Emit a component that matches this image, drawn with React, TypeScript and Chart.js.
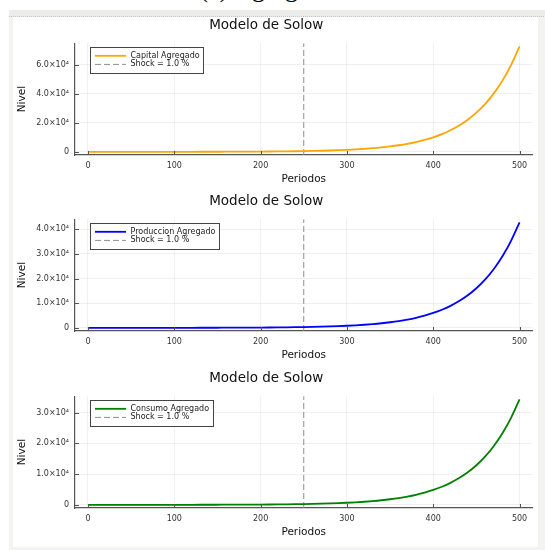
import React, { useEffect, useRef } from "react";
import { Chart, registerables } from "chart.js";

Chart.register(...registerables);

// ---------------- data ----------------
const PERIODS = [
  0, 10, 20, 30, 40, 50, 60, 70, 80, 90, 100, 110, 120, 130, 140, 150, 160, 170, 180, 190,
  200, 210, 220, 230, 240, 250, 260, 270, 280, 290, 300, 310, 320, 330, 340, 350, 360, 370,
  380, 390, 400, 410, 420, 430, 440, 450, 460, 470, 480, 490, 500,
];
const CAPITAL = [
  3.6, 4.5, 5, 7, 8, 10, 12, 14, 18, 21, 26, 32, 39, 48, 58, 71, 86, 105, 128, 157, 191, 233,
  284, 346, 422, 514, 627, 764, 931, 1135, 1383, 1686, 2055, 2505, 3055, 3720, 4535, 5530,
  6740, 8215, 10010, 12210, 14880, 18130, 22100, 26940, 32840, 40030, 48800, 59480, 72500,
];
const PRODUCCION = [
  2.3, 2.8, 3.5, 4.2, 5.1, 6.2, 7.6, 9, 11, 14, 17, 21, 25, 30, 37, 45, 55, 67, 81, 99, 120,
  146, 178, 216, 263, 320, 390, 474, 576, 701, 853, 1037, 1261, 1534, 1866, 2270, 2760, 3360,
  4085, 4970, 6040, 7350, 8940, 10870, 13230, 16090, 19570, 23800, 28950, 35220, 42840,
];
const CONSUMO = [
  1.9, 2.3, 2.8, 3.4, 4.1, 5, 6.1, 7.5, 9, 11, 13.5, 16, 20, 24, 30, 36, 44, 53, 65, 79, 96,
  117, 142, 173, 211, 256, 312, 379, 461, 561, 683, 830, 1010, 1228, 1494, 1818, 2210, 2690,
  3270, 3980, 4840, 5885, 7160, 8705, 10590, 12880, 15670, 19060, 23180, 28200, 34300,
];
const SHOCK_PERIOD = 250;
const SHOCK_LABEL = "Shock = 1.0 %";
const HEADING = "(a) Agregados";
const TITLE = "Modelo de Solow";
const X_LABEL = "Periodos";
const Y_LABEL = "Nivel";
const X_TICKS = [0, 100, 200, 300, 400, 500];
const X_TICK_LABELS = ["0", "100", "200", "300", "400", "500"];
const Y_TICKS_CAPITAL = [0, 20000, 40000, 60000];
const Y_TICK_LABELS_CAPITAL = ["0", "2.0×10⁴", "4.0×10⁴", "6.0×10⁴"];
const Y_TICKS_PRODUCCION = [0, 10000, 20000, 30000, 40000];
const Y_TICK_LABELS_PRODUCCION = ["0", "1.0×10⁴", "2.0×10⁴", "3.0×10⁴", "4.0×10⁴"];
const Y_TICKS_CONSUMO = [0, 10000, 20000, 30000];
const Y_TICK_LABELS_CONSUMO = ["0", "1.0×10⁴", "2.0×10⁴", "3.0×10⁴"];

// ---------------- style ----------------
const FONT = '"DejaVu Sans", sans-serif';
const CANVAS_W = 545;
const CANVAS_H = 176;

const insideLegend = {
  id: "insideLegend",
  afterDraw(chart: any) {
    const ctx = chart.ctx;
    const { left, top } = chart.chartArea;
    ctx.save();
    ctx.font = `8px ${FONT}`;
    const items = chart.data.datasets.map((d: any) => ({
      label: d.label,
      color: d.borderColor,
      dash: d.borderDash || [],
      width: d.borderWidth,
    }));
    const textW = Math.max(...items.map((i: any) => ctx.measureText(i.label).width));
    const bx = Math.round(left + 15);
    const by = Math.round(top + 3.5);
    const bw = Math.round(40.5 + textW + 3.5);
    const bh = 26;
    ctx.fillStyle = "#ffffff";
    ctx.fillRect(bx, by, bw, bh);
    ctx.strokeStyle = "#444444";
    ctx.lineWidth = 1;
    ctx.strokeRect(bx + 0.5, by + 0.5, bw, bh);
    items.forEach((it: any, i: number) => {
      const cy = by + 8.8 + i * 8.6;
      ctx.save();
      ctx.strokeStyle = it.color;
      ctx.lineWidth = it.width;
      ctx.setLineDash(it.dash);
      ctx.beginPath();
      ctx.moveTo(bx + 5, cy);
      ctx.lineTo(bx + 36, cy);
      ctx.stroke();
      ctx.restore();
      ctx.fillStyle = "#222222";
      ctx.textBaseline = "middle";
      ctx.textAlign = "left";
      ctx.fillText(it.label, bx + 40.5, cy);
    });
    ctx.restore();
  },
};

const inwardTicks = {
  id: "inwardTicks",
  afterDraw(chart: any) {
    const ctx = chart.ctx;
    const xs = chart.scales.x;
    const ys = chart.scales.y;
    const { left, bottom } = chart.chartArea;
    ctx.save();
    ctx.strokeStyle = "#555555";
    ctx.lineWidth = 1;
    ctx.beginPath();
    xs.ticks.forEach((t: any) => {
      const px = Math.round(xs.getPixelForValue(t.value)) + 0.5;
      ctx.moveTo(px, bottom);
      ctx.lineTo(px, bottom - 4);
    });
    ys.ticks.forEach((t: any) => {
      const py = Math.round(ys.getPixelForValue(t.value)) + 0.5;
      ctx.moveTo(left, py);
      ctx.lineTo(left + 4, py);
    });
    ctx.stroke();
    ctx.restore();
  },
};

type PanelProps = {
  top: number;
  label: string;
  values: number[];
  color: string;
  yTicks: number[];
  yTickLabels: string[];
};

function Panel({ top, label, values, color, yTicks, yTickLabels }: PanelProps) {
  const ref = useRef<HTMLCanvasElement | null>(null);
  useEffect(() => {
    if (!ref.current) return;
    const lo = Math.min(...values);
    const hi = Math.max(...values);
    const yPad = (hi - lo) * 0.03;
    const yMin = lo - yPad;
    const yMax = hi + yPad;
    const xLo = Math.min(...PERIODS);
    const xHi = Math.max(...PERIODS);
    const xPad = (xHi - xLo) * 0.03;

    const chart = new Chart(ref.current, {
      type: "line",
      data: {
        datasets: [
          {
            label,
            data: PERIODS.map((p, i) => ({ x: p, y: values[i] })),
            borderColor: color,
            borderWidth: 1.8,
            pointRadius: 0,
            fill: false,
            cubicInterpolationMode: "monotone",
          },
          {
            label: SHOCK_LABEL,
            data: [
              { x: SHOCK_PERIOD, y: yMin },
              { x: SHOCK_PERIOD, y: yMax },
            ],
            borderColor: "#8c8c8c",
            borderWidth: 1,
            borderDash: [6, 3],
            pointRadius: 0,
            fill: false,
          },
        ],
      },
      options: {
        animation: false,
        responsive: false,
        maintainAspectRatio: false,
        layout: { padding: { left: 0, right: 12.5, top: 0, bottom: 0 } },
        plugins: {
          legend: { display: false },
          tooltip: { enabled: false },
          title: {
            display: true,
            text: TITLE,
            color: "#111111",
            font: { family: FONT, size: 13.5, weight: "normal" },
            padding: { top: 2, bottom: 10 },
          },
        },
        scales: {
          x: {
            type: "linear",
            min: xLo - xPad,
            max: xHi + xPad,
            afterBuildTicks: (s: any) => {
              s.ticks = X_TICKS.map((v) => ({ value: v }));
            },
            afterFit: (s: any) => {
              s.height = 36;
            },
            ticks: {
              callback: (v: any) => X_TICK_LABELS[X_TICKS.indexOf(Number(v))] ?? "",
              color: "#333333",
              font: { family: FONT, size: 8 },
              padding: 6,
              maxRotation: 0,
              autoSkip: false,
              includeBounds: false,
            },
            grid: { color: "rgba(0,0,0,0.06)", lineWidth: 1, drawTicks: false },
            border: { display: true, color: "#555555", width: 1.2 },
            title: {
              display: true,
              text: X_LABEL,
              color: "#111111",
              font: { family: FONT, size: 10.5 },
              padding: { top: 0, bottom: 5.7 },
            },
          },
          y: {
            type: "linear",
            min: yMin,
            max: yMax,
            afterBuildTicks: (s: any) => {
              s.ticks = yTicks.map((v) => ({ value: v }));
            },
            afterFit: (s: any) => {
              s.width = 75;
            },
            ticks: {
              callback: (v: any) => yTickLabels[yTicks.indexOf(Number(v))] ?? "",
              color: "#333333",
              font: { family: FONT, size: 8 },
              padding: 6,
              autoSkip: false,
              includeBounds: false,
            },
            grid: { color: "rgba(0,0,0,0.06)", lineWidth: 1, drawTicks: false },
            border: { display: true, color: "#555555", width: 1.2 },
            title: {
              display: true,
              text: Y_LABEL,
              color: "#111111",
              font: { family: FONT, size: 10.5 },
              padding: { top: 15.7, bottom: 0 },
            },
          },
        },
      },
      plugins: [inwardTicks, insideLegend],
    } as any);
    return () => chart.destroy();
  }, [label, values, color, yTicks, yTickLabels]);

  return (
    <canvas
      ref={ref}
      width={CANVAS_W}
      height={CANVAS_H}
      style={{ position: "absolute", left: 0, top, width: CANVAS_W, height: CANVAS_H }}
    />
  );
}

export default function App() {
  return (
    <div
      style={{
        position: "absolute",
        left: 0,
        top: 0,
        width: 545,
        height: 550,
        background: "#ffffff",
        overflow: "hidden",
      }}
    >
      <div
        style={{
          position: "absolute",
          left: 0,
          top: -24,
          width: 545,
          textAlign: "center",
          fontFamily: '"Liberation Serif", serif',
          fontSize: 26,
          lineHeight: "26px",
          color: "#000",
        }}
      >
        {HEADING}
      </div>
      <div
        style={{
          position: "absolute",
          left: 9,
          top: 10,
          width: 545,
          height: 545,
          background: "#f3f3f2",
        }}
      />
      <div
        style={{
          position: "absolute",
          left: 9,
          top: 10,
          width: 545,
          height: 6,
          background: "#ececea",
          borderBottom: "1px dotted #c4c4c4",
        }}
      />
      <div
        style={{
          position: "absolute",
          left: 13,
          top: 17,
          width: 525,
          height: 530,
          background: "#ffffff",
        }}
      />
      <Panel
        top={15}
        label="Capital Agregado"
        values={CAPITAL}
        color="#ffa500"
        yTicks={Y_TICKS_CAPITAL}
        yTickLabels={Y_TICK_LABELS_CAPITAL}
      />
      <Panel
        top={191}
        label="Produccion Agregado"
        values={PRODUCCION}
        color="#0000ff"
        yTicks={Y_TICKS_PRODUCCION}
        yTickLabels={Y_TICK_LABELS_PRODUCCION}
      />
      <Panel
        top={368}
        label="Consumo Agregado"
        values={CONSUMO}
        color="#008000"
        yTicks={Y_TICKS_CONSUMO}
        yTickLabels={Y_TICK_LABELS_CONSUMO}
      />
    </div>
  );
}
